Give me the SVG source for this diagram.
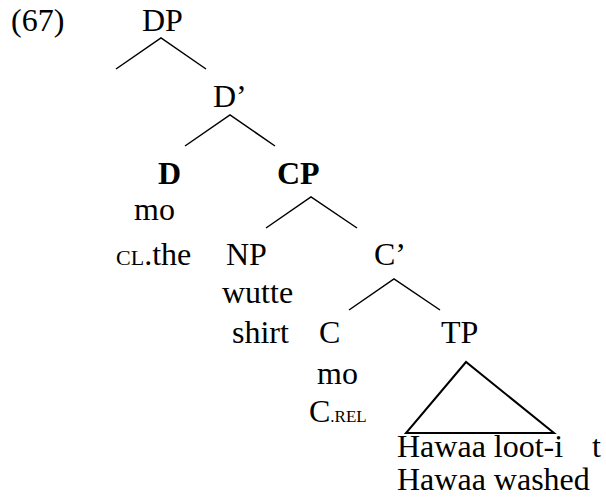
<svg xmlns="http://www.w3.org/2000/svg" width="606" height="500" viewBox="0 0 606 500">
<style>
text{font-family:"Liberation Serif","Times New Roman",serif;font-size:32px;fill:#000}
.b{font-weight:bold}
.sc{font-size:22px}
.sc2{font-size:17px}
.e{stroke:#000;stroke-width:1.5;fill:none}
.tri{stroke:#000;stroke-width:2;fill:none;stroke-linejoin:miter}
</style>
<rect width="606" height="500" fill="#fff"/>
<g id="label"><text x="11" y="31">(67)</text></g>
<g id="DP"><text x="142" y="31">DP</text></g>
<g id="Dbar"><text x="213" y="107">D’</text></g>
<g id="D"><text class="b" x="158" y="184">D</text><text x="134" y="220">mo</text><text x="116" y="265"><tspan class="sc">CL</tspan>.the</text></g>
<g id="CP"><text class="b" x="277" y="184">CP</text></g>
<g id="NP"><text x="226" y="265">NP</text><text x="222" y="303">wutte</text><text x="232" y="343">shirt</text></g>
<g id="Cbar"><text x="374" y="265">C’</text></g>
<g id="C"><text x="319" y="343">C</text><text x="317" y="384">mo</text><text x="309" y="422">C<tspan class="sc2">.REL</tspan></text></g>
<g id="TP"><text x="441" y="343">TP</text><text x="397" y="457">Hawaa loot-i</text><text x="592" y="457">t</text><text x="397" y="490">Hawaa washed</text></g>
<g id="connectors">
<path class="e" d="M116,69 L161,38 L206,69"/>
<path class="e" d="M185,146 L230,115 L275,146"/>
<path class="e" d="M266,228 L311,197 L357,228"/>
<path class="e" d="M349,310 L394,279 L440,310"/>
<path class="tri" d="M466,362 L406,433 L554,433 Z"/>
</g>
</svg>
